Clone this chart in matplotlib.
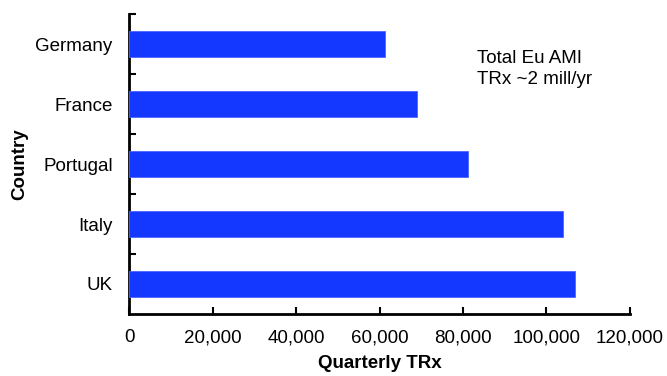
import matplotlib.pyplot as plt
from matplotlib.ticker import FuncFormatter, FixedLocator

plt.rcParams['font.family'] = ['Liberation Sans', 'DejaVu Sans']

countries = ['UK', 'Italy', 'Portugal', 'France', 'Germany']
quarterly_trx = [107000, 104000, 81200, 69000, 61300]
x_ticks = [0, 20000, 40000, 60000, 80000, 100000, 120000]

fs = 13.5

fig = plt.figure(figsize=(6.67, 3.76), dpi=100)
ax = fig.add_axes([0.194, 0.165, 0.750, 0.797])

ax.barh(range(len(countries)), quarterly_trx, height=0.43, color='#1438ff',
        edgecolor='#4a66ff', linewidth=0.6, zorder=3)

ax.set_xlim(0, 120000)
ax.set_ylim(-0.5, len(countries) - 0.5)
ax.set_xticks(x_ticks)
ax.xaxis.set_major_formatter(FuncFormatter(lambda v, p: f'{int(v):,}'))
ax.set_yticks(range(len(countries)))
ax.set_yticklabels(countries)
ax.tick_params(axis='y', length=0, labelsize=fs, pad=12)
ax.tick_params(axis='x', direction='in', length=5, width=1.5, labelsize=fs, pad=11)

# boundary ticks between categories on the y axis
ax.yaxis.set_minor_locator(FixedLocator([i + 0.5 for i in range(len(countries))]))
ax.tick_params(axis='y', which='minor', direction='in', length=5, width=1.5)

for side in ['top', 'right']:
    ax.spines[side].set_visible(False)
for side in ['left', 'bottom']:
    ax.spines[side].set_linewidth(2)

ax.set_xlabel('Quarterly TRx', fontsize=fs, fontweight='bold', labelpad=6)
ax.set_ylabel('Country', fontsize=fs, fontweight='bold', labelpad=5)

ax.text(0.695, 0.88, 'Total Eu AMI\nTRx ~2 mill/yr', transform=ax.transAxes,
        fontsize=fs, va='top', ha='left', linespacing=1.3)

fig.savefig('out.png', dpi=100)
